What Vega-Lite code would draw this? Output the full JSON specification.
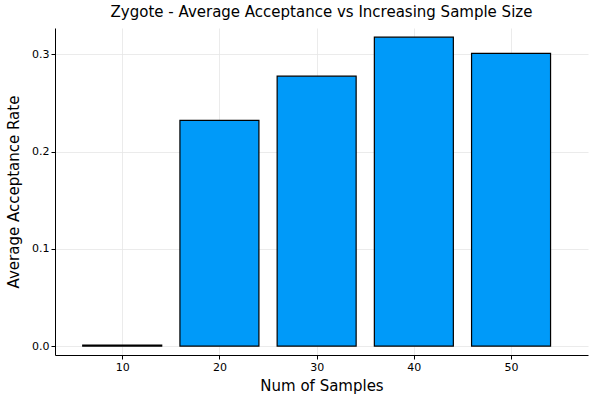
{
  "$schema": "https://vega.github.io/schema/vega-lite/v6.json",
  "autosize": "none",
  "padding": {"left": 55, "top": 28, "right": 12, "bottom": 45},
  "width": 533,
  "height": 327,
  "background": "white",
  "title": {"text": "Zygote - Average Acceptance vs Increasing Sample Size", "font": "DejaVu Sans", "fontSize": 15, "fontWeight": "normal", "color": "black", "offset": 8},
  "data": {"values": [
    {"samples": 10, "rate": 0.001},
    {"samples": 20, "rate": 0.232},
    {"samples": 30, "rate": 0.2775},
    {"samples": 40, "rate": 0.3176},
    {"samples": 50, "rate": 0.301}
  ]},
  "mark": {"type": "bar", "size": 79, "color": "#009AF9", "stroke": "black", "strokeWidth": 1.2},
  "encoding": {
    "x": {"field": "samples", "type": "quantitative", "title": "Num of Samples",
      "scale": {"domain": [3.6, 57.4], "nice": false, "zero": false},
      "axis": {"values": [10, 20, 30, 40, 50]}},
    "y": {"field": "rate", "type": "quantitative", "title": "Average Acceptance Rate",
      "scale": {"domain": [-0.0092, 0.327], "nice": false, "zero": false},
      "axis": {"values": [0, 0.1, 0.2, 0.3], "format": ".1f"}}
  },
  "config": {
    "view": {"stroke": null},
    "axis": {
      "labelFont": "DejaVu Sans", "labelFontSize": 11, "labelColor": "black",
      "titleFont": "DejaVu Sans", "titleFontSize": 15, "titleFontWeight": "normal", "titleColor": "black",
      "domainColor": "black", "tickColor": "black", "tickSize": 4, "tickDirection": "in",
      "gridColor": "#e6e6e6", "gridWidth": 0.8
    },
    "axisX": {"titlePadding": 6},
    "axisY": {"titlePadding": 10}
  }
}
